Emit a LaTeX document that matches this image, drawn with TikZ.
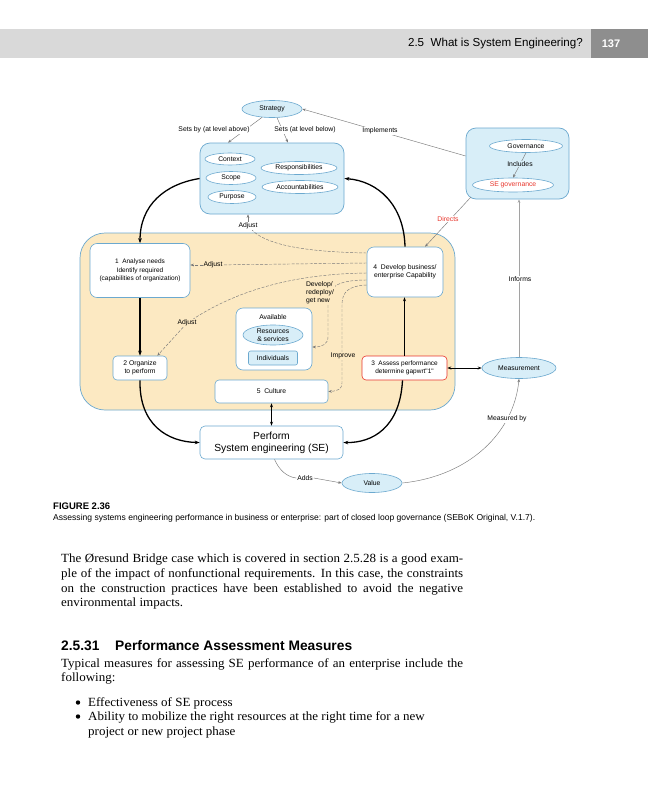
\documentclass[tikz,border=0pt]{standalone}
\usepackage{fontspec}
\usepackage{graphicx}
\setmainfont{Liberation Serif}[FakeStretch=1.04]
\newfontfamily\dfont{Liberation Sans}
\newfontfamily\hfont{Liberation Sans}
\usetikzlibrary{arrows.meta,shapes.geometric}
\definecolor{lblue}{HTML}{D8EEF8}
\definecolor{bblue}{HTML}{6CA9CF}
\definecolor{beige}{HTML}{FCE9C2}
\definecolor{sered}{HTML}{E8352B}
\definecolor{hgray}{HTML}{D9D9D9}
\definecolor{hdark}{HTML}{8E8E8E}
\definecolor{lgray}{HTML}{7A7A7A}
\tikzset{
 dt/.style={font=\dfont\fontsize{6.8}{8}\selectfont, align=center, inner sep=0.6pt},
 ell/.style={ellipse, draw=bblue, fill=lblue, line width=0.6pt, inner sep=0pt, dt},
 wbox/.style={rectangle, draw=bblue, fill=white, line width=0.6pt, rounded corners=7pt, dt, inner sep=0pt},
 lbl/.style={dt, fill=white, inner sep=0.8pt},
 blbl/.style={dt, fill=beige, inner sep=0.8pt},
 thk/.style={line width=1.3pt, -{Stealth[length=5pt,width=3.6pt]}},
 thn/.style={line width=0.45pt, draw=lgray, -{Stealth[length=3.5pt,width=2.6pt]}},
 dsh/.style={line width=0.45pt, draw=lgray, dash pattern=on 3pt off 1.5pt},
 dsha/.style={dsh, -{Stealth[length=3.5pt,width=2.6pt]}},
 dbl/.style={line width=1pt, {Stealth[length=4pt,width=3pt]}-{Stealth[length=4pt,width=3pt]}},
 bodyt/.style={font=\fontsize{12.5}{14.7}\selectfont, inner sep=0, anchor=base west},
 headt/.style={font=\hfont\bfseries\fontsize{13.8}{16}\selectfont, inner sep=0, anchor=base west},
}
\begin{document}
\begin{tikzpicture}[x=1pt,y=-1pt]
\useasboundingbox (0,0) rectangle (648,800);
\fill[white] (0,0) rectangle (648,800);
% header
\node[fill=hgray, minimum width=648pt, minimum height=29pt, inner sep=0, anchor=north west] (band) at (0,29) {};
\node[fill=hdark, minimum width=57pt, minimum height=29pt, inner sep=0, anchor=north east] (pgbox) at (648,29) {};
\node[font=\hfont\fontsize{11.6}{13}\selectfont, anchor=east, inner sep=0] (runhead) at (583,44) {2.5\ \ What is System Engineering?};
\node[font=\hfont\bfseries\fontsize{11}{13}\selectfont, text=white, inner sep=0] (pgno) at (611,44) {137};

% containers
\node[rectangle, draw=bblue, fill=lblue, line width=0.7pt, rounded corners=10pt, minimum width=144pt, minimum height=71pt] (blue) at (272,178.5) {};
\node[rectangle, draw=bblue, fill=lblue, line width=0.7pt, rounded corners=10pt, minimum width=103pt, minimum height=71pt] (gov) at (517.5,163.5) {};
\node[rectangle, draw=bblue, fill=beige, line width=0.7pt, rounded corners=25pt, minimum width=375pt, minimum height=177pt] (ent) at (267.5,321.5) {};

% nodes
\node[ell, minimum width=60pt, minimum height=17pt] (strat) at (272,109) {Strategy};
\node[ell, fill=white, minimum width=50pt, minimum height=12pt] (ctx) at (230,159) {Context};
\node[ell, fill=white, minimum width=50pt, minimum height=13pt] (scope) at (231,178) {Scope};
\node[ell, fill=white, minimum width=48pt, minimum height=13pt] (purp) at (232,197) {Purpose};
\node[ell, fill=white, minimum width=76pt, minimum height=13pt] (resp) at (299,168) {Responsibilities};
\node[ell, fill=white, minimum width=76pt, minimum height=13pt] (acc) at (300,187) {Accountabilities};
\node[ell, fill=white, minimum width=73pt, minimum height=13pt] (govern) at (526,146) {Governance};
\node[ell, fill=white, text=sered, minimum width=81pt, minimum height=14pt] (segov) at (513,185) {SE governance};

\node[wbox, minimum width=100pt, minimum height=54pt, font=\dfont\fontsize{6.5}{8.4}\selectfont] (b1) at (140,270.5) {1\ \ Analyse needs\\Identify required\\(capabilities of organization)};
\node[wbox, minimum width=76pt, minimum height=50pt] (b4) at (405,272) {4\ \ Develop business/\\enterprise Capability};
\node[wbox, minimum width=76pt, minimum height=62pt] (avail) at (274,339) {};
\node[dt] (availt) at (273,317) {Available};
\node[ell, minimum width=60pt, minimum height=20pt] (res) at (273,335) {Resources\\\&\ services};
\node[rectangle, draw=bblue, fill=lblue, line width=0.6pt, rounded corners=2pt, minimum width=49pt, minimum height=14pt, dt] (indiv) at (273,358) {Individuals};
\node[wbox, rounded corners=4pt, minimum width=54pt, minimum height=24pt] (b2) at (140,368) {2 Organize\\to perform};
\node[wbox, draw=sered, rounded corners=4pt, minimum width=85pt, minimum height=24pt, font=\dfont\fontsize{6.5}{8}\selectfont] (b3) at (404.5,368) {3\ \ Assess performance\\determine gapwrt"1"};
\node[wbox, rounded corners=4pt, minimum width=113pt, minimum height=23pt] (b5) at (271.5,391.5) {5\ \ Culture};
\node[wbox, rounded corners=5pt, minimum width=143pt, minimum height=33pt, font=\dfont\fontsize{10.3}{12.2}\selectfont] (perf) at (271.5,442.5) {Perform\\System engineering (SE)};
\node[ell, minimum width=74pt, minimum height=21pt] (meas) at (519,368) {Measurement};
\node[ell, minimum width=60pt, minimum height=19pt] (val) at (372,483) {Value};

% thick black connectors
\draw[thk] (blue.west) .. controls (165,184) and (140,205) .. (b1.north);
\draw[thk] (b4.north) .. controls (404,205) and (378,181) .. (blue.east);
\draw[thk] (b1.south) -- (b2.north);
\draw[thk] (b2.south) .. controls (139,425) and (168,442) .. (perf.west);
\draw[thk] ([xshift=-2pt]b3.south) .. controls (400,428) and (372,443) .. (perf.east);
\draw[line width=0.8pt, -{Stealth[length=4pt,width=3pt]}] (b3.north) -- (b3.north |- b4.south);
\draw[dbl] (b5.south) -- (perf.north);
\draw[dbl] (b3.east) -- (meas.west);

% thin grey connectors
\draw[thn] (strat.220) -- ([xshift=-44pt]blue.north);
\draw[thn] (strat.300) -- ([xshift=16pt]blue.north);
\draw[thn] ([yshift=7.5pt]gov.west) -- (strat.east);
\draw[thn] (govern.south) -- (segov.north);
\draw[thn] ([shift={(5pt,2pt)}]gov.south west) -- ([xshift=20pt]b4.north);
\draw[thn, draw=lgray!70, line width=0.9pt] (meas.north) -- (meas.north |- gov.south);
\draw[thn] (val.east) .. controls (470,476) and (514,432) .. (meas.south);
\node[lbl] (adds) at (305,478) {Adds};
\draw[dsh, dash pattern=on 6pt off 0pt] ([xshift=3pt]perf.south) .. controls (279,470) and (287,477) .. (adds.west);
\draw[thn] (adds.east) -- (val.west);

% dashed connectors
\node[lbl] (adjtop) at (248,226) {Adjust};
\node[blbl] (adj1) at (213,265) {Adjust};
\node[blbl] (adj2) at (187,323) {Adjust};
\draw[dsh] ([yshift=19pt]b4.west) .. controls (310,252) and (268,246) .. (adjtop);
\draw[thn] (adjtop.north) -- (adjtop.north |- blue.south);
\draw[dsh] ([yshift=9pt]b4.west) -- (adj1);
\draw[dsha] (adj1) -- (b1.east |- adj1);
\draw[dsh] ([yshift=-1pt]b4.west) .. controls (290,274) and (235,292) .. (adj2);
\draw[dsha] (adj2) -- ([xshift=-10pt]b2.north east);
\draw[dsha] ([yshift=-8pt]b4.west) .. controls (340,280) and (328,286) .. (328,300) -- (328,337) .. controls (328,344) and (322,347) .. ([yshift=-8pt]avail.east);
\draw[dsha] ([yshift=-13pt]b4.west) .. controls (348,286) and (342,292) .. (342,305) -- (342,383) .. controls (342,389) and (338,391) .. (b5.east);
\node[blbl, align=left, anchor=west] (dev) at (305,293) {Develop/\\redeploy/\\get new};
\node[blbl] (impr) at (343,356) {Improve};

% labels
\node[lbl] (setsby) at (214,130) {Sets by (at level above)};
\node[lbl] (setsbl) at (305,130) {Sets (at level below)};
\node[lbl] (impl) at (380,131) {Implements};
\node[dt, fill=lblue] (incl) at (520,164) {Includes};
\node[lbl, text=sered] (directs) at (448,219) {Directs};
\node[lbl] (informs) at (520,279) {Informs};
\node[lbl] (measby) at (507,419) {Measured by};

% caption
\node[font=\hfont\bfseries\fontsize{9.5}{11}\selectfont, anchor=base west, inner sep=0] (fig) at (53,509) {FIGURE 2.36};
\node[anchor=base west, inner sep=0] (cap) at (53,520) {\resizebox{482pt}{!}{\hfont\fontsize{9.2}{10}\selectfont Assessing systems engineering performance in business or enterprise: part of closed loop governance (SEBoK Original, V.1.7).}};

% body text
\node[bodyt] (p1) at (61,562) {\makebox[402pt][s]{The Øresund Bridge case which is covered in section 2.5.28 is a good exam-}};
\node[bodyt] (p2) at (61,577) {\makebox[402pt][s]{ple of the impact of nonfunctional requirements. In this case, the constraints}};
\node[bodyt] (p3) at (61,592) {\makebox[402pt][s]{on the construction practices have been established to avoid the negative}};
\node[bodyt] (p4) at (61,606) {environmental impacts.};
\node[headt] (hnum) at (61,650) {2.5.31};
\node[headt] (htitle) at (115,650) {Performance Assessment Measures};
\node[bodyt] (q1) at (61,667) {\makebox[402pt][s]{Typical measures for assessing SE performance of an enterprise include the}};
\node[bodyt] (q2) at (61,681) {following:};
\node[circle, fill=black, inner sep=0, minimum size=4.4pt] (bul1) at (78,702.5) {};
\node[bodyt] (r1) at (88,706) {Effectiveness of SE process};
\node[circle, fill=black, inner sep=0, minimum size=4.4pt] (bul2) at (78,716.5) {};
\node[bodyt] (r2) at (88,720) {Ability to mobilize the right resources at the right time for a new};
\node[bodyt] (r3) at (88,735) {project or new project phase};
\end{tikzpicture}
\end{document}
